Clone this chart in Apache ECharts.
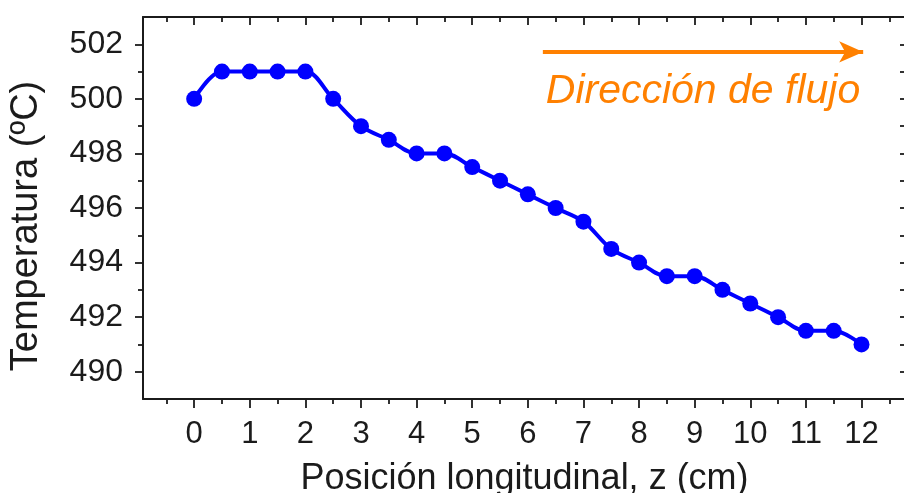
<!DOCTYPE html>
<html>
<head>
<meta charset="utf-8">
<script src="https://cdn.jsdelivr.net/npm/echarts@6/dist/echarts.min.js"></script>
<style>
  html, body { margin: 0; padding: 0; background: #fff; }
  #chart { width: 904px; height: 493px; }
</style>
</head>
<body>
<div id="chart"></div>
<script>
// Axial temperature profile along the reactor
const positions = [0, 0.5, 1, 1.5, 2, 2.5, 3, 3.5, 4, 4.5, 5, 5.5, 6, 6.5, 7, 7.5, 8, 8.5, 9, 9.5, 10, 10.5, 11, 11.5, 12];
const temperatures = [500, 501, 501, 501, 501, 500, 499, 498.5, 498, 498, 497.5, 497, 496.5, 496, 495.5, 494.5, 494, 493.5, 493.5, 493, 492.5, 492, 491.5, 491.5, 491];

// Tick positions
const xMajorTicks = [0, 1, 2, 3, 4, 5, 6, 7, 8, 9, 10, 11, 12];
const xMinorTicks = [-0.5, 0.5, 1.5, 2.5, 3.5, 4.5, 5.5, 6.5, 7.5, 8.5, 9.5, 10.5, 11.5, 12.5];
const yMajorTicks = [490, 492, 494, 496, 498, 500, 502];
const yMinorTicks = [491, 493, 495, 497, 499, 501];

// Axis ranges
const xRange = [-0.92, 12.8];
const yRange = [489, 503];

// Flow-direction annotation (data coordinates)
const flowArrow = [[6.27, 501.72], [12.03, 501.72]];
const flowLabel = { text: 'Dirección de flujo', at: [9.15, 500.25] };

const INK = '#1b1b1b';
const FONT = '"Liberation Sans", Arial, sans-serif';

function xAxisOf(position, ticks, len, inside, opts) {
  return Object.assign({
    type: 'value', position: position, min: xRange[0], max: xRange[1],
    splitLine: { show: false },
    axisLine: { show: false, onZero: false },
    axisTick: { show: true, customValues: ticks, length: len, inside: inside, lineStyle: { color: INK, width: 1.8 } },
    axisLabel: { show: false }
  }, opts || {});
}
function yAxisOf(position, ticks, len, inside, opts) {
  return Object.assign({
    type: 'value', position: position, min: yRange[0], max: yRange[1],
    splitLine: { show: false },
    axisLine: { show: false, onZero: false },
    axisTick: { show: true, customValues: ticks, length: len, inside: inside, lineStyle: { color: INK, width: 1.8 } },
    axisLabel: { show: false }
  }, opts || {});
}

const chart = echarts.init(document.getElementById('chart'), null, { renderer: 'canvas' });

chart.setOption({
  animation: false,
  backgroundColor: '#ffffff',
  grid: { left: 143, top: 17, right: -2, bottom: 94, containLabel: false, outerBoundsMode: 'none' },
  xAxis: [
    xAxisOf('bottom', xMajorTicks, 9, false, {
      axisLine: { show: true, onZero: false, lineStyle: { color: INK, width: 2 } },
      axisLabel: { show: true, customValues: xMajorTicks, fontSize: 31, fontFamily: FONT, color: INK, margin: 20 },
      name: 'Posición longitudinal, z (cm)',
      nameLocation: 'middle',
      nameGap: 62,
      nameTextStyle: { fontSize: 36, fontFamily: FONT, color: INK }
    }),
    xAxisOf('bottom', xMinorTicks, 5, false),
    xAxisOf('top', xMajorTicks, 8, true, {
      axisLine: { show: true, onZero: false, lineStyle: { color: INK, width: 2 } }
    }),
    xAxisOf('top', xMinorTicks, 5, true)
  ],
  yAxis: [
    yAxisOf('left', yMajorTicks, 8, false, {
      axisLine: { show: true, onZero: false, lineStyle: { color: INK, width: 2 } },
      axisLabel: { show: true, customValues: yMajorTicks, fontSize: 32, fontFamily: FONT, color: INK, margin: 20 },
      name: 'Temperatura (ºC)',
      nameLocation: 'middle',
      nameRotate: 90,
      nameGap: 97,
      nameTextStyle: { fontSize: 38, fontFamily: FONT, color: INK, padding: [0, 36, 0, 0] }
    }),
    yAxisOf('left', yMinorTicks, 5, false),
    yAxisOf('right', yMajorTicks, 6, true, {
      axisLine: { show: true, onZero: false, lineStyle: { color: INK, width: 2 } }
    }),
    yAxisOf('right', yMinorTicks, 6, true)
  ],
  series: [
    {
      type: 'line',
      xAxisIndex: 0,
      yAxisIndex: 0,
      data: positions.map((x, i) => [x, temperatures[i]]),
      smooth: 0.35,
      symbol: 'circle',
      symbolSize: 16,
      lineStyle: { color: '#0000ff', width: 4 },
      itemStyle: { color: '#0000ff' },
      markLine: {
        silent: true,
        symbol: ['none', 'arrow'],
        symbolSize: [16, 24],
        lineStyle: { color: '#ff8000', width: 4, type: 'solid' },
        label: { show: false },
        data: [[{ coord: flowArrow[0] }, { coord: flowArrow[1] }]]
      },
      markPoint: {
        silent: true,
        symbol: 'circle',
        symbolSize: 0,
        label: {
          show: true,
          formatter: flowLabel.text,
          fontSize: 41,
          fontStyle: 'italic',
          fontFamily: FONT,
          color: '#ff8000',
          position: 'inside'
        },
        data: [{ coord: flowLabel.at }]
      }
    }
  ]
});
</script>
</body>
</html>
